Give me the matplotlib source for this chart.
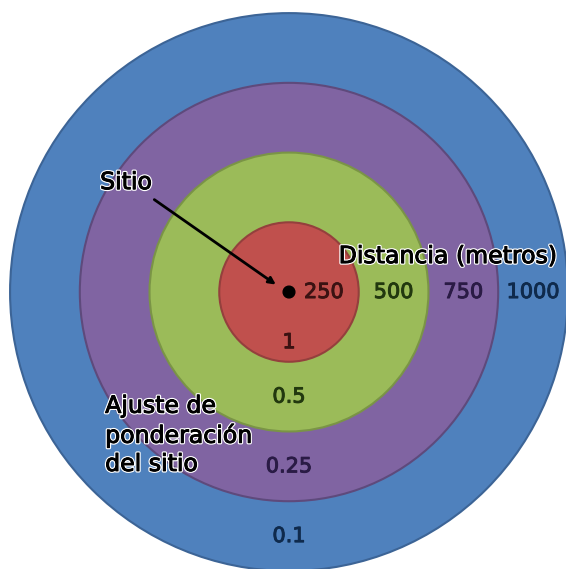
import matplotlib
matplotlib.use('Agg')
import matplotlib.pyplot as plt
import matplotlib.patheffects as pe
from matplotlib.patches import Circle

# rings: distance from the site (m) and the weight for each ring
radii = [1000, 750, 500, 250]
fills = ['#4F81BD', '#8064A2', '#9BBB59', '#C0504D']
edges = ['#3C6496', '#5E4A7C', '#7A9446', '#94403D']

dist_labels = ['250', '500', '750', '1000']
weight_labels = ['1', '0.5', '0.25', '0.1']
label_colors = ['#3A1212', '#22380F', '#2A1B45', '#0F2A4C']

fig = plt.figure(figsize=(5.66, 5.69), dpi=100)
ax = fig.add_axes([0, 0, 1, 1])
ax.set_xlim(-1036, 993)
ax.set_ylim(-993, 1047)
ax.set_aspect('equal')
ax.axis('off')

for r, fc, ec in zip(radii, fills, edges):
    ax.add_patch(Circle((0, 0), r, facecolor=fc, edgecolor=ec, lw=1.5))

# centre of the site
ax.add_patch(Circle((0, 0), 21, color='black', zorder=5))

inner = sorted(radii)
mids = [r - 125 for r in inner]
for i in range(4):
    thick = [pe.withStroke(linewidth=0.7, foreground=label_colors[i])]
    ax.text(mids[i], 0, dist_labels[i], ha='center', va='center',
            fontsize=15, color=label_colors[i], path_effects=thick)
    y = 180 if i == 0 else mids[i]
    ax.text(0, -y, weight_labels[i], ha='center', va='center',
            fontsize=15, color=label_colors[i], path_effects=thick)

halo = [pe.withStroke(linewidth=2.4, foreground='white'),
        pe.withStroke(linewidth=0.7, foreground='black')]

ax.text(-584, 394, 'Sitio', ha='center', va='center', fontsize=17,
        color='black', path_effects=halo)
ax.annotate('', xy=(-39, 21), xytext=(-491, 337),
            arrowprops=dict(arrowstyle='-|>', color='black', lw=2,
                            mutation_scale=10))

ax.text(570, 129, 'Distancia (metros)', ha='center', va='center',
        fontsize=17, color='black', path_effects=halo)

ax.text(-659, -512, 'Ajuste de\nponderación\ndel sitio', ha='left',
        va='center', fontsize=17, color='black', linespacing=1.22,
        path_effects=halo)

plt.savefig('out.png', dpi=100)
